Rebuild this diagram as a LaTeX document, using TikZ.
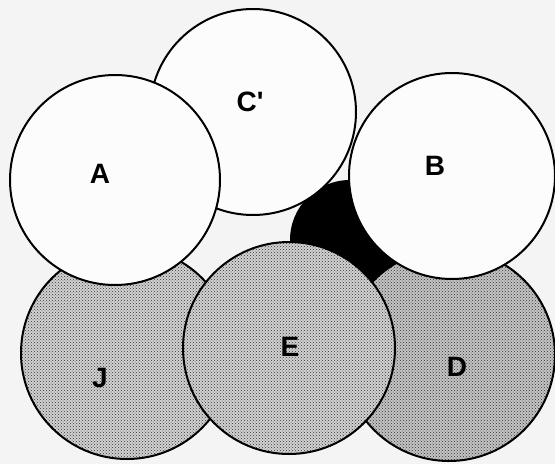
\documentclass[tikz,border=0pt]{standalone}
\usepackage{fontspec}
\setmainfont{Liberation Sans}
\usetikzlibrary{patterns}

\definecolor{paper}{HTML}{F4F4F4}
\definecolor{blank}{HTML}{FCFCFC}
\definecolor{grain}{HTML}{D2D2D2}
\definecolor{grainD}{HTML}{C4C4C4}

\tikzset{
  rim/.style={draw=black, line width=2pt},
  plain disc/.style={rim, fill=blank},
  dotted disc/.style={rim, preaction={fill=#1}, pattern=crosshatch dots, pattern color=black!80},
  dotted disc/.default=grain,
  tag/.style={font=\fontsize{28}{30}\selectfont\bfseries, inner sep=0pt}
}

\begin{document}
\begin{tikzpicture}[x=1pt, y=-1pt, line cap=round]

  % page
  \fill[paper] (0,0) rectangle (555,464);
  \useasboundingbox (0,0) rectangle (555,464);

  % the dark one, sitting behind the ring
  \fill[black] (350,240) circle (60);

  % back row
  \path[plain disc] (253,112) circle (103);
  \path[dotted disc] (127,353) circle (106);
  \path[dotted disc=grainD] (449,355) circle (106);
  \path[dotted disc] (289,348) circle (106);

  % front row
  \path[plain disc] (115,180) circle (105);
  \path[plain disc] (452,176) circle (103);

  % labels
  \node[tag] (cp) at (250,102) {C\textquotesingle};
  \node[tag] (a)  at (100,174) {A};
  \node[tag] (b)  at (435,166) {B};
  \node[tag] (j)  at (100,378) {J};
  \node[tag] (e)  at (290,347) {E};
  \node[tag] (d)  at (457,367) {D};

\end{tikzpicture}
\end{document}
